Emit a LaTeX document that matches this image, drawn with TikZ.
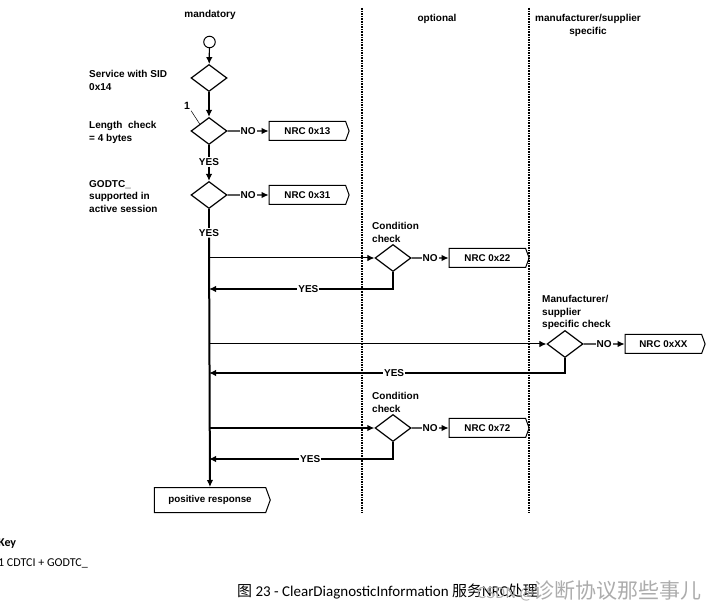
\documentclass[tikz,border=0pt]{standalone}
\usepackage{fontspec}
\setmainfont{Liberation Sans}
\newfontfamily\keyfont{Carlito}
\newfontfamily\cjk{Noto Sans CJK SC}
\usetikzlibrary{arrows.meta}
\usetikzlibrary{positioning}
\usetikzlibrary{shapes.geometric,shapes.symbols}

\tikzset{
	dec/.style={draw, line width=1.2pt, diamond, inner sep=0pt, minimum width=36pt, minimum height=27pt},
	nrc/.style={draw, line width=1pt, signal, signal to=east, signal pointer angle=140, minimum width=80pt, minimum height=19pt, inner sep=0pt, font=\bfseries\fontsize{9.8}{10}\selectfont},
	lbl/.style={font=\bfseries\fontsize{10}{12.5}\selectfont, inner sep=1pt},
	note/.style={lbl, align=left, anchor=north west},
	flow/.style={line width=1.2pt},
	zone/.style={line width=1.6pt, dash pattern=on 1.6pt off 1pt},
	>={Latex[length=7pt,width=6.5pt]},
}

\begin{document}
\begin{tikzpicture}[x=1pt, y=-1pt]
		\useasboundingbox (0,0) rectangle (715,609);
		\node[lbl] (hm) at (210,15) {mandatory};
		\node[lbl] (ho) at (437,19) {optional};
		\node[lbl, align=center, anchor=north] (hs) at (588,13.5) {manufacturer/supplier\\specific};
		\foreach \x in {362,529}
			\draw[zone] (\x,8) -- (\x,513);
		\node[draw, circle, line width=1pt, minimum size=11.5pt, inner sep=0pt] (st) at (209.5,42) {};
		\node[dec] (sd) at (209,78) {};
		\node[dec] (lc) at (209,131) {};
		\node[dec] (gs) at (209,195) {};
		\node[dec] (c1) at (393,258) {};
		\node[dec] (mc) at (565,344) {};
		\node[dec] (c3) at (393,428) {};
		\node[note] (tsd) at (88,69.5) {Service with SID\\0x14};
		\node[note] (tlc) at (88,120.5) {Length\ \ check\\= 4 bytes};
		\node[note] (tgs) at (88,179) {GODTC\_\\supported in\\active session};
		\node[note] (tc1) at (371,221.5) {Condition\\check};
		\node[note] (tmc) at (541,294.5) {Manufacturer/\\supplier\\specific check};
		\node[note] (tc3) at (371,391.5) {Condition\\check};
		\node[lbl, font=\bfseries\fontsize{10.5}{10.5}\selectfont] (k1) at (187,106) {1};
		\draw[line width=0.5pt] (k1.south east) -- (lc.north west);
		\node[nrc, right=41pt of lc] (n13) {NRC 0x13};
		\node[nrc, right=41pt of gs] (n31) {NRC 0x31};
		\node[nrc, right=37pt of c1] (n22) {NRC 0x22};
		\node[nrc, right=41pt of mc] (nxx) {NRC 0xXX};
		\node[nrc, right=37pt of c3] (n72) {NRC 0x72};
		\node[nrc, minimum width=116pt, minimum height=25pt] (pr) at (210,500) {positive response};
		\node[lbl] (y1) at (209,162) {YES};
		\node[lbl] (y2) at (209,233) {YES};
		\coordinate (b1) at (209,258);
		\coordinate (r1) at (209,289);
		\coordinate (b2) at (209,344);
		\coordinate (r2) at (209,373);
		\coordinate (b3) at (209,428);
		\coordinate (r3) at (209,459);
		\draw[flow,->] (st) -- (sd);
		\draw[flow,->] (sd) -- (lc);
		\draw[flow] (lc) -- (y1);
		\draw[flow,->] (y1) -- (gs);
		\draw[line width=2pt] (gs) -- (y2);
		\draw[line width=2pt,->] (y2) -- (pr);
		\foreach \d/\n in {lc/n13,gs/n31,c1/n22,mc/nxx,c3/n72}
			\draw[flow,->] (\d) -- node[lbl, fill=white] {NO} (\n);
		\draw[line width=1pt,->] (b1) -- (c1);
		\draw[line width=1pt,->] (b2) -- (mc);
		\draw[line width=1.8pt,->] (b3) -- (c3);
		\draw[line width=1.5pt,->] (c1.south) |- node[lbl, fill=white, pos=0.73] {YES} (r1);
		\draw[line width=1.5pt,->] (mc.south) |- node[lbl, fill=white, pos=0.74] {YES} (r2);
		\draw[line width=1.5pt,->] (c3.south) |- node[lbl, fill=white, pos=0.725] {YES} (r3);
		\node[anchor=base west, inner sep=0pt, font=\keyfont\bfseries\fontsize{12}{12}\selectfont] (key) at (-2,546) {Key};
		\node[anchor=base west, inner sep=0pt, font=\keyfont\fontsize{12}{12}\selectfont] (kl) at (-2,566) {1 CDTCI + GODTC\_};
		\node[anchor=base west, inner sep=0pt, font=\keyfont\fontsize{15}{15}\selectfont] (cap) at (237,596) {{\cjk 图} 23 - ClearDiagnosticInformation {\cjk 服务}NRC{\cjk 处理}};
		\node[anchor=base east, inner sep=0pt, text=gray!65, font=\cjk\fontsize{21}{21}\selectfont] (wm) at (702,598) {{\fontsize{15}{15}\selectfont CSDN @}诊断协议那些事儿};
	\end{tikzpicture}
\end{document}
